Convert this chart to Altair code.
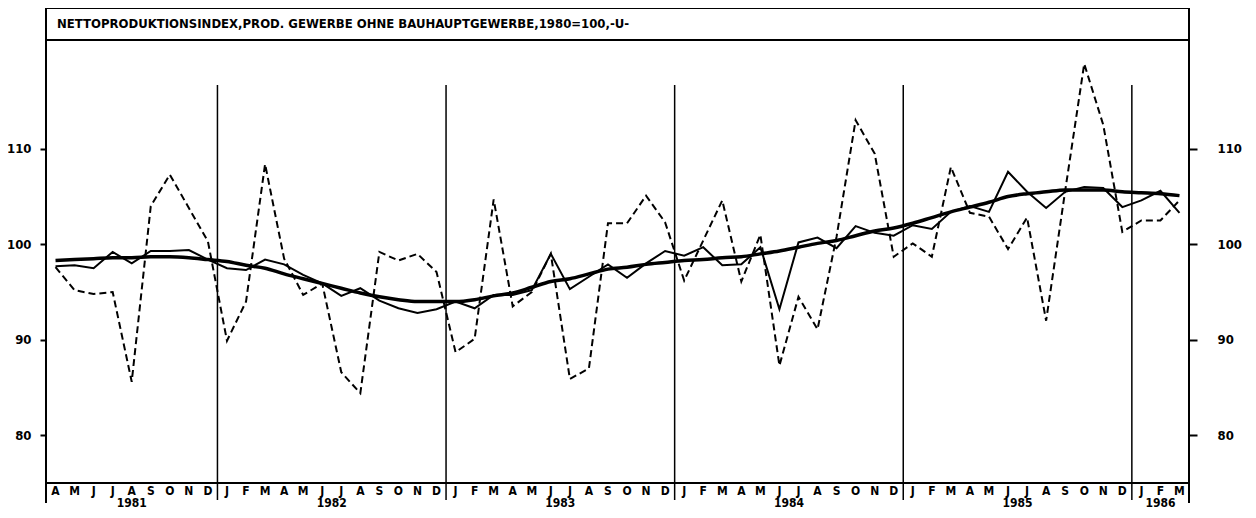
import altair as alt
import pandas as pd

# ---------------- data ----------------
months = (["A", "M", "J", "J", "A", "S", "O", "N", "D"]
          + ["J", "F", "M", "A", "M", "J", "J", "A", "S", "O", "N", "D"] * 4
          + ["J", "F", "M"])

# raw index (dashed)
raw = [97.6, 95.2, 94.8, 95.0, 85.6, 104.0, 107.3, 103.8, 100.3,
       89.9, 94.0, 108.4, 98.5, 94.7, 95.9, 86.6, 84.4, 99.2, 98.3, 99.0, 97.1,
       88.7, 90.1, 104.7, 93.5, 95.0, 99.0, 85.9, 87.0, 102.2, 102.2, 105.1, 102.3,
       96.2, 100.4, 104.6, 96.1, 101.0, 87.3, 94.5, 91.1, 100.8, 113.0, 109.5, 98.7,
       100.1, 98.7, 108.1, 103.3, 102.9, 99.5, 102.8, 92.0, 105.6, 118.9, 112.5, 101.3,
       102.5, 102.5, 104.6]

# seasonally adjusted (thin solid)
sa = [97.7, 97.8, 97.5, 99.2, 98.0, 99.3, 99.3, 99.4, 98.4,
      97.5, 97.3, 98.4, 97.9, 96.8, 95.9, 94.6, 95.4, 94.1, 93.3, 92.8, 93.2,
      94.0, 93.3, 94.7, 94.7, 95.2, 99.0, 95.3, 96.6, 97.9, 96.5, 98.0, 99.3,
      98.8, 99.7, 97.8, 97.9, 99.7, 93.2, 100.2, 100.7, 99.6, 101.9, 101.2, 100.9,
      102.0, 101.6, 103.4, 104.0, 103.4, 107.6, 105.5, 103.8, 105.5, 106.0, 105.9, 103.9,
      104.6, 105.6, 103.3]

# trend (thick solid)
trend = [98.3, 98.4, 98.5, 98.6, 98.6, 98.7, 98.7, 98.6, 98.4,
         98.2, 97.8, 97.5, 96.9, 96.4, 95.9, 95.4, 94.9, 94.5, 94.2, 94.0, 94.0,
         94.0, 94.2, 94.6, 94.9, 95.5, 96.1, 96.4, 96.9, 97.4, 97.6, 97.9, 98.1,
         98.3, 98.4, 98.6, 98.7, 99.0, 99.3, 99.7, 100.1, 100.4, 100.9, 101.4, 101.7,
         102.2, 102.8, 103.4, 103.9, 104.4, 105.0, 105.3, 105.5, 105.7, 105.7, 105.7, 105.5,
         105.4, 105.3, 105.1]

years = ["1981", "1982", "1983", "1984", "1985", "1986"]
year_pos = [4.5, 15, 27, 39, 51, 58.5]
year_breaks = [9, 21, 33, 45, 57]
y_ticks = [80, 90, 100, 110]
title = "NETTOPRODUKTIONSINDEX,PROD. GEWERBE OHNE BAUHAUPTGEWERBE,1980=100,-U-"

FONT = "DejaVu Sans Condensed, DejaVu Sans"
W, H = 1143, 443

df = pd.DataFrame({
    "xm": [i + 0.5 for i in range(len(months))],
    "mon": months,
    "raw": raw,
    "sa": sa,
    "trend": trend,
})
years_df = pd.DataFrame({"yp": year_pos, "yl": years})
breaks_df = pd.DataFrame({"xb": year_breaks})
dummy = pd.DataFrame({"a": [0]})

xscale = alt.Scale(domain=[0, len(months)], nice=False, zero=False)
yscale = alt.Scale(domain=[75, 121.4], nice=False, zero=False)

x_axis = alt.Axis(values=list(range(0, len(months) + 1)), tickSize=17, tickWidth=1.5,
                  tickColor="black", labels=False, domain=False, grid=False, title=None)
x_enc = alt.X("xm:Q", scale=xscale, axis=x_axis)

left_axis = alt.Axis(orient="left", values=y_ticks, tickSize=6, tickWidth=2, tickColor="black",
                     labelPadding=9, labelFontSize=13, labelFontWeight="bold", labelFont=FONT,
                     labelColor="black", domain=False, grid=False, title=None)
right_axis = alt.Axis(orient="right", values=y_ticks, tickSize=8, tickWidth=2, tickColor="black",
                      labelPadding=20, labelFontSize=13, labelFontWeight="bold", labelFont=FONT,
                      labelColor="black", domain=False, grid=False, title=None)

base = alt.Chart(df)

raw_line = base.mark_line(color="black", strokeWidth=2, strokeDash=[7, 4]).encode(
    x=x_enc, y=alt.Y("raw:Q", scale=yscale, axis=left_axis))
sa_line = base.mark_line(color="black", strokeWidth=2).encode(
    x=x_enc, y=alt.Y("sa:Q", scale=yscale, axis=None))
trend_line = base.mark_line(color="black", strokeWidth=3.5, interpolate="monotone").encode(
    x=x_enc, y=alt.Y("trend:Q", scale=yscale, axis=right_axis))

year_rules = alt.Chart(breaks_df).mark_rule(color="black", strokeWidth=1.5).encode(
    x=alt.X("xb:Q", scale=xscale, axis=None), y=alt.value(45), y2=alt.value(460))

month_text = base.mark_text(font=FONT, fontSize=12, fontWeight="bold", color="black",
                            baseline="middle").encode(
    x=alt.X("xm:Q", scale=xscale, axis=None), y=alt.value(451), text="mon:N")

year_text = alt.Chart(years_df).mark_text(font=FONT, fontSize=12, fontWeight="bold", color="black",
                                          baseline="middle").encode(
    x=alt.X("yp:Q", scale=xscale, axis=None), y=alt.value(463), text="yl:N")

title_text = alt.Chart(pd.DataFrame({"t": [title]})).mark_text(
    font=FONT, fontSize=13, fontWeight="bold", color="black", align="left", baseline="middle").encode(
    x=alt.value(11), y=alt.value(-16), text="t:N")

frame_top = alt.Chart(dummy).mark_rule(color="black", strokeWidth=2).encode(
    x=alt.value(0), x2=alt.value(W), y=alt.value(-32))
frame_left = alt.Chart(dummy).mark_rule(color="black", strokeWidth=2).encode(
    x=alt.value(0), y=alt.value(-32), y2=alt.value(463))
frame_right = alt.Chart(dummy).mark_rule(color="black", strokeWidth=2).encode(
    x=alt.value(W), y=alt.value(-32), y2=alt.value(463))

chart = alt.layer(
    year_rules, raw_line, sa_line, trend_line, month_text, year_text, title_text,
    frame_top, frame_left, frame_right,
).resolve_scale(y="independent").properties(
    width=W, height=H,
    autosize=alt.AutoSizeParams(type="none"),
    padding={"left": 38, "top": 32, "right": 55, "bottom": 30},
    background="white",
).configure_view(stroke="black", strokeWidth=2)

chart.save("out.html", embed_options={"renderer": "svg", "actions": False})
